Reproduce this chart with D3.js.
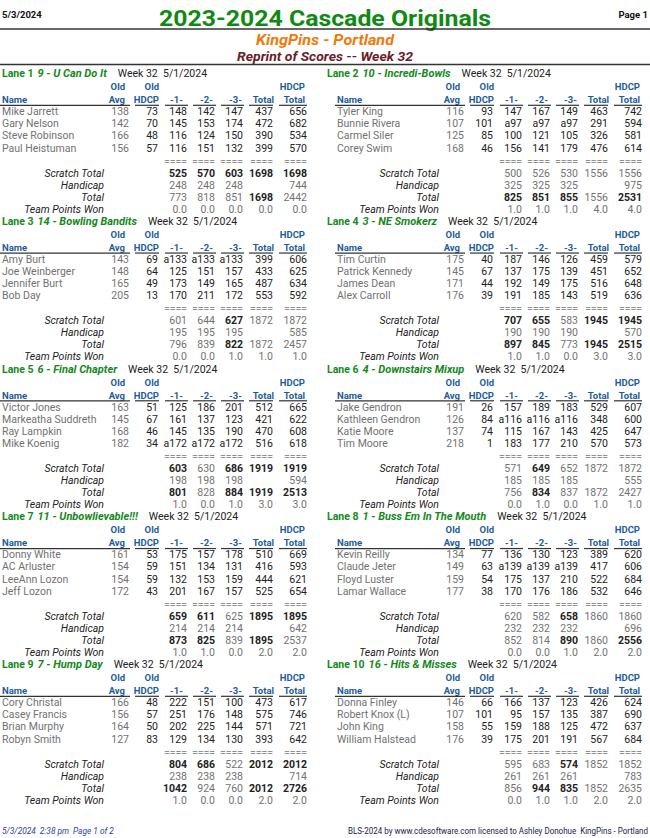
<!DOCTYPE html>
<html>
<head>
<meta charset="utf-8">
<script src="https://cdn.jsdelivr.net/npm/d3@7"></script>
<style>
  body { margin: 0; background: #fff; }
  svg { display: block; font-family: Roboto, "Liberation Sans", sans-serif; }
</style>
</head>
<body>
<div id="wrapper"></div>
<script>
// ---- data ----
const teams = ["9 - U Can Do It", "10 - Incredi-Bowls", "14 - Bowling Bandits", "3 - NE Smokerz",
  "6 - Final Chapter", "4 - Downstairs Mixup", "11 - Unbowlievable!!!", "1 - Buss Em In The Mouth",
  "7 - Hump Day", "16 - Hits & Misses"];

const playerNames = [
  ["Mike Jarrett", "Gary Nelson", "Steve Robinson", "Paul Heistuman"],
  ["Tyler King", "Bunnie Rivera", "Carmel Siler", "Corey Swim"],
  ["Amy Burt", "Joe Weinberger", "Jennifer Burt", "Bob Day"],
  ["Tim Curtin", "Patrick Kennedy", "James Dean", "Alex Carroll"],
  ["Victor Jones", "Markeatha Suddreth", "Ray Lampkin", "Mike Koenig"],
  ["Jake Gendron", "Kathleen Gendron", "Katie Moore", "Tim Moore"],
  ["Donny White", "AC Arluster", "LeeAnn Lozon", "Jeff Lozon"],
  ["Kevin Reilly", "Claude Jeter", "Floyd Luster", "Lamar Wallace"],
  ["Cory Christal", "Casey Francis", "Brian Murphy", "Robyn Smith"],
  ["Donna Finley", "Robert Knox (L)", "John King", "William Halstead"]
];
const playerAvg = [
  [138, 142, 166, 156], [116, 107, 125, 168], [143, 148, 165, 205], [175, 145, 171, 176],
  [163, 145, 168, 182], [191, 126, 137, 218], [161, 154, 154, 172], [134, 149, 159, 177],
  [166, 156, 164, 127], [146, 107, 158, 176]
];
const playerHdcp = [
  [73, 70, 48, 57], [93, 101, 85, 46], [69, 64, 49, 13], [40, 67, 44, 39],
  [51, 67, 46, 34], [26, 84, 74, 1], [53, 59, 59, 43], [77, 63, 54, 38],
  [48, 57, 50, 83], [66, 101, 55, 39]
];
const playerGames = [
  [["148","142","147"],["145","153","174"],["116","124","150"],["116","151","132"]],
  [["147","167","149"],["a97","a97","a97"],["100","121","105"],["156","141","179"]],
  [["a133","a133","a133"],["125","151","157"],["173","149","165"],["170","211","172"]],
  [["187","146","126"],["137","175","139"],["192","149","175"],["191","185","143"]],
  [["125","186","201"],["161","137","123"],["145","135","190"],["a172","a172","a172"]],
  [["157","189","183"],["a116","a116","a116"],["115","167","143"],["183","177","210"]],
  [["175","157","178"],["151","134","131"],["132","153","159"],["201","167","157"]],
  [["136","130","123"],["a139","a139","a139"],["175","137","210"],["170","176","186"]],
  [["222","151","100"],["251","176","148"],["202","225","144"],["129","134","130"]],
  [["166","137","123"],["95","157","135"],["159","188","125"],["175","201","191"]]
];
const playerSeries = [
  [437, 472, 390, 399], [463, 291, 326, 476], [399, 433, 487, 553], [459, 451, 516, 519],
  [512, 421, 470, 516], [529, 348, 425, 570], [510, 416, 444, 525], [389, 417, 522, 532],
  [473, 575, 571, 393], [426, 387, 472, 567]
];
const playerHdcpSeries = [
  [656, 682, 534, 570], [742, 594, 581, 614], [606, 625, 634, 592], [579, 652, 648, 636],
  [665, 622, 608, 618], [607, 600, 647, 573], [669, 593, 621, 654], [620, 606, 684, 646],
  [617, 746, 721, 642], [624, 690, 637, 684]
];
const scratchGames = [
  [525, 570, 603], [500, 526, 530], [601, 644, 627], [707, 655, 583], [603, 630, 686],
  [571, 649, 652], [659, 611, 625], [620, 582, 658], [804, 686, 522], [595, 683, 574]
];
const scratchSeries = [1698, 1556, 1872, 1945, 1919, 1872, 1895, 1860, 2012, 1852];
const teamHdcp = [248, 325, 195, 190, 198, 185, 214, 232, 238, 261];
const teamHdcpSeries = [744, 975, 585, 570, 594, 555, 642, 696, 714, 783];
const totalGames = [
  [773, 818, 851], [825, 851, 855], [796, 839, 822], [897, 845, 773], [801, 828, 884],
  [756, 834, 837], [873, 825, 839], [852, 814, 890], [1042, 924, 760], [856, 944, 835]
];
const totalHdcpSeries = [2442, 2531, 2457, 2515, 2513, 2427, 2537, 2556, 2726, 2635];
const teamPoints = [
  [0, 0, 0, 0], [1, 1, 1, 4], [0, 0, 1, 1], [1, 1, 0, 3], [1, 0, 1, 3],
  [0, 1, 0, 1], [1, 1, 0, 2], [0, 0, 1, 2], [1, 0, 0, 2], [0, 1, 1, 2]
];
const headerTop = ["Old", "Old", "", "", "", "", "HDCP"];
const headerBottom = ["Avg", "HDCP", "-1-", "-2-", "-3-", "Total", "Total"];
const summaryLabels = ["Scratch Total", "Handicap", "Total", "Team Points Won"];

// ---- layout ----
const W = 650, H = 838;
const green = "#13891a", blue = "#1d5c9c", gray = "#727272", dark = "#222";
const cols = ["avg", "hdcp", "g1", "g2", "g3", "tot", "htot"];
const colX = d3.scaleOrdinal().domain(cols).range([129, 158, 187, 215, 243, 273, 307]);
const headX = d3.scaleOrdinal().domain(cols).range([125, 159, 183, 213, 242, 274, 305]);
const ulStart = d3.scaleOrdinal().domain(cols).range([0, 135, 165, 193, 221, 249, 279]);
const ulEnd = d3.scaleOrdinal().domain(cols).range([130, 159, 188, 216, 244, 273, 307]);
const sideX = d3.scaleOrdinal().domain([0, 1]).range([0, 335]);
const headSideX = d3.scaleOrdinal().domain([0, 1]).range([2, 327]);
const laneY = d3.scaleLinear().domain([0, 4]).range([77, 77 + 4 * 147.75]);
const playerY = d3.scaleLinear().domain([0, 3]).range([38, 74.6]);
const summaryY = d3.scaleLinear().domain([0, 3]).range([99.5, 135.5]);

const svg = d3.select("#wrapper").append("svg")
  .attr("width", W).attr("height", H).attr("viewBox", [0, 0, W, H]);

// page header
svg.append("text").attr("x", 2).attr("y", 18).attr("font-size", 9.5).attr("font-weight", "bold")
  .attr("fill", "#111").text("5/3/2024");
svg.append("text").attr("x", 648).attr("y", 18).attr("text-anchor", "end").attr("font-size", 9.5)
  .attr("font-weight", "bold").attr("fill", "#111").text("Page 1");
svg.append("text").attr("x", 325).attr("y", 25.5).attr("text-anchor", "middle").attr("font-size", 22.5)
  .attr("font-weight", "bold").attr("fill", "#0f8a12")
  .attr("textLength", 332).attr("lengthAdjust", "spacingAndGlyphs").text("2023-2024 Cascade Originals");
svg.append("line").attr("x1", 0).attr("x2", W).attr("y1", 29).attr("y2", 29)
  .attr("stroke", "#333").attr("stroke-width", 1.6);
svg.append("text").attr("x", 325).attr("y", 45).attr("text-anchor", "middle").attr("font-size", 15)
  .attr("font-weight", "bold").attr("font-style", "italic").attr("fill", "#f07b0c")
  .attr("textLength", 138).attr("lengthAdjust", "spacingAndGlyphs").text("KingPins - Portland");
svg.append("text").attr("x", 325).attr("y", 61).attr("text-anchor", "middle").attr("font-size", 12)
  .attr("font-weight", "bold").attr("font-style", "italic").attr("fill", "#6b1c26")
  .attr("textLength", 176).attr("lengthAdjust", "spacingAndGlyphs").text("Reprint of Scores -- Week 32");
svg.append("line").attr("x1", 0).attr("x2", W).attr("y1", 64.5).attr("y2", 64.5)
  .attr("stroke", "#333").attr("stroke-width", 1.4);

// lanes
teams.forEach((team, i) => {
  const side = i % 2, opp = side === 0 ? i + 1 : i - 1;
  const y0 = laneY(Math.floor(i / 2));
  const g = svg.append("g").attr("transform", `translate(${sideX(side)},${y0})`);

  // lane header
  const ht = svg.append("text").attr("x", headSideX(side)).attr("y", y0).attr("font-size", 10.5);
  ht.append("tspan").attr("font-weight", "bold").attr("fill", green).text(`Lane ${i + 1}`);
  ht.append("tspan").attr("dx", 4).attr("font-size", 11).attr("font-weight", "bold").attr("font-style", "italic")
    .attr("fill", green).text(team);
  ht.append("tspan").attr("dx", 11).attr("fill", dark).text("Week 32  5/1/2024");
  ht.attr("xml:space", "preserve");

  // column headers
  g.append("text").attr("x", 2).attr("y", 26).attr("font-size", 9.5).attr("font-weight", "bold")
    .attr("fill", blue).text("Name");
  cols.forEach((c, k) => {
    if (headerTop[k]) g.append("text").attr("x", headX(c)).attr("y", 13).attr("text-anchor", "end")
      .attr("font-size", 9.5).attr("font-weight", "bold").attr("fill", blue).text(headerTop[k]);
    g.append("text").attr("x", headX(c)).attr("y", 26).attr("text-anchor", "end")
      .attr("font-size", 9.5).attr("font-weight", "bold").attr("fill", blue).text(headerBottom[k]);
    g.append("line").attr("x1", ulStart(c)).attr("x2", ulEnd(c)).attr("y1", 28.3).attr("y2", 28.3)
      .attr("stroke", "#333").attr("stroke-width", 1.2);
  });

  // players
  playerNames[i].forEach((name, p) => {
    const y = playerY(p);
    g.append("text").attr("x", 2).attr("y", y).attr("font-size", 10.5).attr("fill", gray).text(name);
    const vals = [playerAvg[i][p], playerHdcp[i][p], ...playerGames[i][p], playerSeries[i][p], playerHdcpSeries[i][p]];
    cols.forEach((c, k) => {
      g.append("text").attr("x", colX(c)).attr("y", y).attr("text-anchor", "end").attr("font-size", 10.5)
        .attr("fill", k === 0 ? gray : dark).text(vals[k]);
    });
  });

  // separator
  cols.slice(2).forEach(c => {
    g.append("text").attr("x", colX(c)).attr("y", 87.5).attr("text-anchor", "end").attr("font-size", 10.5)
      .attr("fill", "#8f8f8f").text("====");
  });

  // summary rows
  summaryLabels.forEach((lab, r) => {
    g.append("text").attr("x", 104).attr("y", summaryY(r)).attr("text-anchor", "end")
      .attr("font-size", 10.5).attr("font-style", "italic").attr("fill", dark).text(lab);
  });
  const cell = (c, r, v, bold) => g.append("text").attr("x", colX(c)).attr("y", summaryY(r))
    .attr("text-anchor", "end").attr("font-size", 10.5)
    .attr("font-weight", bold ? "bold" : "normal").attr("fill", bold ? dark : gray).text(v);

  ["g1", "g2", "g3"].forEach((c, k) => {
    cell(c, 0, scratchGames[i][k], scratchGames[i][k] > scratchGames[opp][k]);
    cell(c, 1, teamHdcp[i], false);
    cell(c, 2, totalGames[i][k], totalGames[i][k] > totalGames[opp][k]);
    cell(c, 3, teamPoints[i][k].toFixed(1), false);
  });
  const sBold = scratchSeries[i] > scratchSeries[opp];
  cell("tot", 0, scratchSeries[i], sBold);
  cell("htot", 0, scratchSeries[i], sBold);
  cell("htot", 1, teamHdcpSeries[i], false);
  cell("tot", 2, scratchSeries[i], sBold);
  cell("htot", 2, totalHdcpSeries[i], totalHdcpSeries[i] > totalHdcpSeries[opp]);
  cell("tot", 3, teamPoints[i][3].toFixed(1), false);
  cell("htot", 3, teamPoints[i][3].toFixed(1), false);
});

// footer
svg.append("text").attr("x", 2).attr("y", 834).attr("font-size", 8.3).attr("font-style", "italic")
  .attr("fill", "#2444a8").attr("xml:space", "preserve").text("5/3/2024  2:38 pm  Page 1 of 2");
svg.append("text").attr("x", 648).attr("y", 834).attr("text-anchor", "end").attr("font-size", 8.3)
  .attr("fill", "#202050").attr("xml:space", "preserve")
  .attr("textLength", 300).attr("lengthAdjust", "spacingAndGlyphs")
  .text("BLS-2024 by www.cdesoftware.com licensed to Ashley Donohue  KingPins - Portland");
</script>
</body>
</html>
